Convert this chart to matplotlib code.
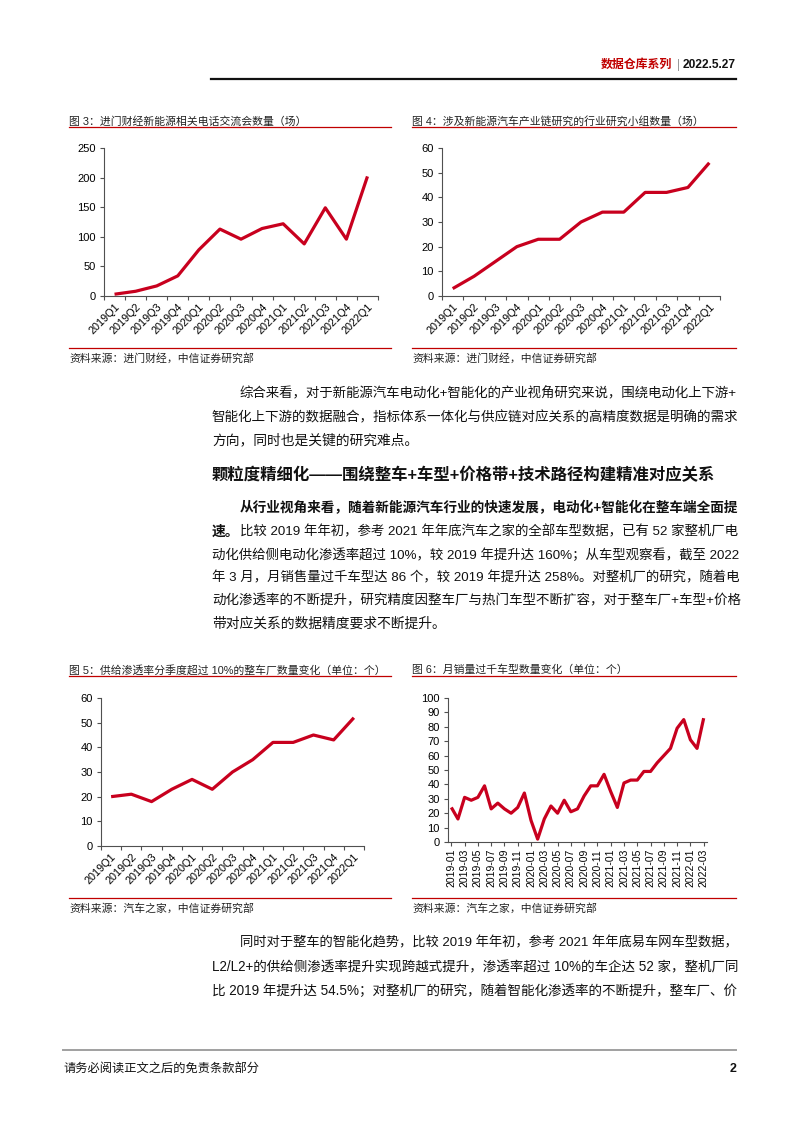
import numpy as np
import pandas as pd
import matplotlib
matplotlib.use("Agg")
import matplotlib.pyplot as plt
from matplotlib.lines import Line2D

plt.rcParams["font.family"] = ["Liberation Sans", "Noto Sans CJK SC", "DejaVu Sans"]

W, H = 802, 1133
RED = "#C8001E"
TITLE_RED = "#C00000"
TEXT_END = 737  # 正文右边界（两端对齐）

# ====== 数据 ======
QUARTERS = ["2019Q1", "2019Q2", "2019Q3", "2019Q4", "2020Q1", "2020Q2", "2020Q3",
            "2020Q4", "2021Q1", "2021Q2", "2021Q3", "2021Q4", "2022Q1"]

# 图3：进门财经新能源相关电话交流会数量（场）
CALLS = [3, 8, 17, 34, 78, 113, 96, 114, 122, 88, 149, 96, 202]

# 图4：涉及新能源汽车产业链研究的行业研究小组数量
GROUPS = [3, 8, 14, 20, 23, 23, 30, 34, 34, 42, 42, 44, 54]

# 图5：供给渗透率分季度超过10%的整车厂数量
OEMS = [20, 21, 18, 23, 27, 23, 30, 35, 42, 42, 45, 43, 52]

# 图6：月销量过千车型数量
MONTHS = list(pd.period_range("2019-01", "2022-03", freq="M").strftime("%Y-%m"))
MODELS = [24, 16, 31, 29, 31, 39, 23, 27, 23, 20, 24, 34,
          15, 2, 16, 25, 20, 29, 21, 23, 32, 39, 39, 47,
          35, 24, 41, 43, 43, 49, 49, 55, 60, 65, 79, 85,
          71, 65, 86]

PARA1 = [
    "综合来看，对于新能源汽车电动化+智能化的产业视角研究来说，围绕电动化上下游+",
    "智能化上下游的数据融合，指标体系一体化与供应链对应关系的高精度数据是明确的需求",
    "方向，同时也是关键的研究难点。",
]
HEADING = "颗粒度精细化——围绕整车+车型+价格带+技术路径构建精准对应关系"
PARA2_BOLD = "从行业视角来看，随着新能源汽车行业的快速发展，电动化+智能化在整车端全面提"
PARA2_BOLD2 = "速。"
PARA2 = [
    "比较 2019 年年初，参考 2021 年年底汽车之家的全部车型数据，已有 52 家整机厂电",
    "动化供给侧电动化渗透率超过 10%，较 2019 年提升达 160%；从车型观察看，截至 2022",
    "年 3 月，月销售量过千车型达 86 个，较 2019 年提升达 258%。对整机厂的研究，随着电",
    "动化渗透率的不断提升，研究精度因整车厂与热门车型不断扩容，对于整车厂+车型+价格",
    "带对应关系的数据精度要求不断提升。",
]
PARA3 = [
    "同时对于整车的智能化趋势，比较 2019 年年初，参考 2021 年年底易车网车型数据，",
    "L2/L2+的供给侧渗透率提升实现跨越式提升，渗透率超过 10%的车企达 52 家，整机厂同",
    "比 2019 年提升达 54.5%；对整机厂的研究，随着智能化渗透率的不断提升，整车厂、价",
]


def px_axes(fig, x0, y0, x1, y1):
    return fig.add_axes([x0 / W, 1 - y1 / H, (x1 - x0) / W, (y1 - y0) / H])


def ftext(fig, x, y, s, **kw):
    kw.setdefault("va", "center")
    return fig.text(x / W, 1 - y / H, s, **kw)


def hline(fig, x0, x1, y, color, lw):
    fig.add_artist(Line2D([x0 / W, x1 / W], [1 - y / H, 1 - y / H],
                          transform=fig.transFigure, color=color, lw=lw))


def fit_line(fig, r, x, y, s, fs, **kw):
    # 近似两端对齐：微调字号让整行刚好到右边界
    t = ftext(fig, x, y, s, fontsize=fs, **kw)
    w = t.get_window_extent(r).width
    scale = min(max((TEXT_END - x) / w, 0.92), 1.08)
    t.set_fontsize(fs * scale)
    return t


def draw_chart(ax, labels, values, ymax, step, monthly=False):
    x = np.arange(len(values))
    ax.plot(x, values, color=RED, lw=2.3, solid_capstyle="butt")
    ax.set_xlim(-0.5, len(values) - 0.5)
    ax.set_ylim(0, ymax)
    ax.set_yticks(np.arange(0, ymax + 1, step))
    for s in ["top", "right"]:
        ax.spines[s].set_visible(False)
    for s in ["left", "bottom"]:
        ax.spines[s].set_color("#505050")
        ax.spines[s].set_linewidth(0.8)
    ax.tick_params(axis="y", direction="out", length=3, width=0.8,
                   labelsize=8, pad=3, color="#505050")
    if monthly:
        ax.set_xticks(x[::2])
        ax.set_xticklabels(labels[::2], rotation=90, fontsize=7.5)
        ax.tick_params(axis="x", direction="out", length=3, width=0.8,
                       pad=2, color="#505050")
    else:
        ax.set_xticks(x)
        ax.set_xticklabels(labels, rotation=45, ha="right",
                           rotation_mode="anchor", fontsize=7.8)
        ax.tick_params(axis="x", length=0, pad=4)
        ax.set_xticks(np.arange(-0.5, len(values), 1), minor=True)
        ax.tick_params(axis="x", which="minor", direction="out", length=3,
                       width=0.8, color="#505050")


def chart_frame(fig, x0, x1, y_title, y_bottom, title, source):
    ftext(fig, x0, y_title, title, fontsize=7.8, color="#222222")
    hline(fig, x0, x1, y_title + 6, TITLE_RED, 0.9)
    hline(fig, x0, x1, y_bottom, TITLE_RED, 0.9)
    ftext(fig, x0, y_bottom + 10, source, fontsize=7.8, color="#222222")


def main():
    fig = plt.figure(figsize=(W / 100, H / 100), dpi=100)
    fig.patch.set_facecolor("white")
    r = fig.canvas.get_renderer()

    # 页眉
    ftext(fig, 672, 65, "数据仓库系列", ha="right", fontsize=8.6,
          fontweight="bold", color=TITLE_RED)
    ftext(fig, 678.5, 65, "|", ha="center", fontsize=8.6, color="#999999")
    ftext(fig, 736, 65, "2022.5.27", ha="right", fontsize=8.6,
          fontweight="bold", color="#111111")
    hline(fig, 211, 736, 79, "#111111", 1.6)

    # 图3 / 图4
    chart_frame(fig, 69, 391, 121, 348,
                "图 3：进门财经新能源相关电话交流会数量（场）",
                "资料来源：进门财经，中信证券研究部")
    chart_frame(fig, 412, 736, 121, 348,
                "图 4：涉及新能源汽车产业链研究的行业研究小组数量（场）",
                "资料来源：进门财经，中信证券研究部")
    draw_chart(px_axes(fig, 104, 148, 378, 296), QUARTERS, CALLS, 250, 50)
    draw_chart(px_axes(fig, 442, 148, 720, 296), QUARTERS, GROUPS, 60, 10)

    # 正文
    fs = 9.95
    body = dict(color="#111111")
    ys = [394, 417, 440]
    fit_line(fig, r, 240, ys[0], PARA1[0], fs, **body)
    fit_line(fig, r, 212, ys[1], PARA1[1], fs, **body)
    ftext(fig, 212, ys[2], PARA1[2], fontsize=fs, **body)

    ftext(fig, 212, 475, HEADING, fontsize=11.8, fontweight="bold", **body)

    ys = [508, 532, 555, 578, 601, 624]
    fit_line(fig, r, 240, ys[0], PARA2_BOLD, fs, fontweight="bold", **body)
    t = ftext(fig, 212, ys[1], PARA2_BOLD2, fontsize=fs, fontweight="bold", **body)
    x_after = t.get_window_extent(r).x1
    fit_line(fig, r, x_after, ys[1], PARA2[0], fs, **body)
    for y, line in zip(ys[2:5], PARA2[1:4]):
        fit_line(fig, r, 212, y, line, fs, **body)
    ftext(fig, 212, ys[5], PARA2[4], fontsize=fs, **body)

    # 图5 / 图6
    chart_frame(fig, 69, 391, 670, 898,
                "图 5：供给渗透率分季度超过 10%的整车厂数量变化（单位：个）",
                "资料来源：汽车之家，中信证券研究部")
    chart_frame(fig, 412, 736, 670, 898,
                "图 6：月销量过千车型数量变化（单位：个）",
                "资料来源：汽车之家，中信证券研究部")
    draw_chart(px_axes(fig, 101, 698, 364, 846), QUARTERS, OEMS, 60, 10)
    draw_chart(px_axes(fig, 448, 698, 707, 842), MONTHS, MODELS, 100, 10,
               monthly=True)

    ys = [943, 967, 991]
    for i, (y, line) in enumerate(zip(ys, PARA3)):
        fit_line(fig, r, 240 if i == 0 else 212, y, line, fs, **body)

    # 页脚
    hline(fig, 63, 736, 1050, "#A0A0A0", 1.4)
    ftext(fig, 63, 1069, "请务必阅读正文之后的免责条款部分", fontsize=8.8,
          color="#111111")
    ftext(fig, 736, 1069, "2", ha="right", fontsize=9, fontweight="bold",
          color="#111111")

    fig.savefig("out.png", dpi=100)


if __name__ == "__main__":
    main()
